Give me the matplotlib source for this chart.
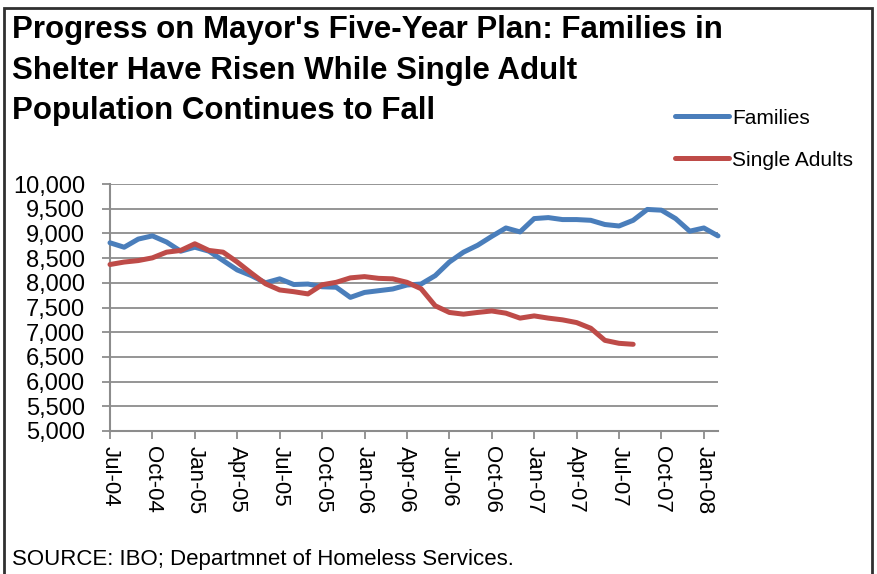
import matplotlib
matplotlib.use('Agg')
import matplotlib.pyplot as plt
from matplotlib.patches import Rectangle
from matplotlib.ticker import FuncFormatter

plt.rcParams['font.family'] = ['Liberation Sans', 'DejaVu Sans']

# 每月數據 Jul-04 起
families = [8810, 8720, 8885, 8950, 8825, 8640, 8720, 8640, 8450, 8260,
            8145, 8000, 8080, 7965, 7975, 7920, 7910, 7705, 7805, 7840,
            7875, 7955, 7975, 8145, 8420, 8620, 8760, 8940, 9110, 9030,
            9300, 9320, 9280, 9280, 9265, 9180, 9150, 9265, 9485, 9470,
            9300, 9045, 9110, 8950]
single_adults = [8370, 8420, 8450, 8505, 8620, 8655, 8790, 8655, 8620, 8420,
                 8195, 7980, 7855, 7820, 7775, 7960, 8010, 8100, 8125, 8090,
                 8080, 8010, 7880, 7535, 7400, 7365, 7400, 7430, 7385, 7285,
                 7330, 7285, 7250, 7195, 7080, 6835, 6775, 6755]
tick_labels = ['Jul-04', 'Oct-04', 'Jan-05', 'Apr-05', 'Jul-05', 'Oct-05',
               'Jan-06', 'Apr-06', 'Jul-06', 'Oct-06', 'Jan-07', 'Apr-07',
               'Jul-07', 'Oct-07', 'Jan-08']

W, H = 877, 574
fig = plt.figure(figsize=(W / 100, H / 100), dpi=100)

# 外框
fig.patches.append(Rectangle((4 / W, -0.01), 868 / W, (H - 8) / H + 0.01,
                             transform=fig.transFigure, fill=False,
                             edgecolor='#303030', linewidth=2))

ax = fig.add_axes([110 / W, (H - 431) / H, 608 / W, 247 / H])
ax.plot(range(len(families)), families, color='#4A7EBB', linewidth=3.6,
        solid_capstyle='round', solid_joinstyle='round', clip_on=False,
        label='Families', zorder=3)
ax.plot(range(len(single_adults)), single_adults, color='#BE4B48', linewidth=3.6,
        solid_capstyle='round', solid_joinstyle='round', clip_on=False,
        label='Single Adults', zorder=3)

ax.set_xlim(0, 43)
ax.set_ylim(5000, 10000)
ax.set_yticks(range(5000, 10001, 500))
ax.yaxis.set_major_formatter(FuncFormatter(lambda v, p: f'{int(v):,}'))
ax.set_xticks(range(0, 43, 3))
ax.set_xticklabels(tick_labels, rotation=-90, va='top', ha='center')
ax.grid(axis='y', color='#8C8C8C', linewidth=1.3)
ax.set_axisbelow(True)
for s in ['top', 'right']:
    ax.spines[s].set_visible(False)
for s in ['left', 'bottom']:
    ax.spines[s].set_color('#8C8C8C')
    ax.spines[s].set_linewidth(1.5)
ax.tick_params(axis='y', length=6, color='#8C8C8C', width=1.3, labelsize=17, pad=12)
ax.tick_params(axis='x', length=6, color='#8C8C8C', width=1.3, labelsize=16, pad=5)

fig.text(12 / W, 1 - 15 / H,
         "Progress on Mayor's Five-Year Plan: Families in\n"
         "Shelter Have Risen While Single Adult\n"
         "Population Continues to Fall",
         fontsize=22.5, fontweight='bold', va='top', ha='left',
         linespacing=1.46)

leg = fig.legend(loc='upper left', bbox_to_anchor=(656 / W, 1 - 90 / H),
                 frameon=False, fontsize=15, handlelength=2.6,
                 handletextpad=0.15, labelspacing=1.1)

fig.text(12 / W, 1 - 559 / H, 'SOURCE: IBO; Departmnet of Homeless Services.',
         fontsize=16, va='center', ha='left')

fig.savefig('out.png', dpi=100)
